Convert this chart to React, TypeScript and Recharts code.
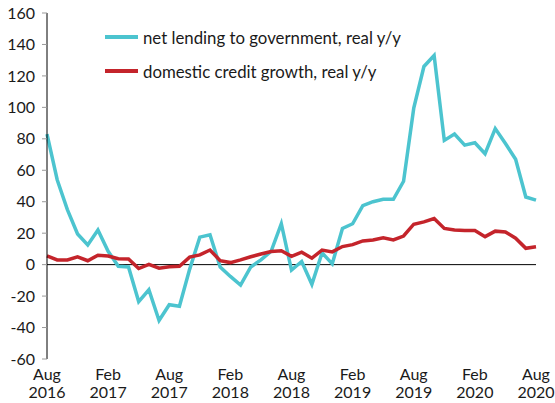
import { LineChart, Line, XAxis, YAxis, ReferenceLine } from "recharts";

const months = Array.from({ length: 49 }, (_, i) => i);

const netLending = [
  83, 54, 35, 19.5, 12.5, 22, 8.5, -1, -1.5, -23.5, -16, -35.5, -25.5, -26.5, -3,
  17.5, 19, -1.5, -7.5, -13, -1.5, 3, 8.5, 26, -3.5, 2, -12.5, 7.5, 0.5, 23, 26,
  37.5, 40, 41.5, 41.5, 53, 99.5, 126, 133, 79, 83, 76, 77.5, 70.5, 86.5, 77,
  67, 43, 41,
];

const domesticCredit = [
  5.5, 3, 3, 5, 2.5, 6, 5.5, 3.8, 3.6, -2.5, 0.2, -2.3, -1.3, -1, 4.8, 6.2, 9.3,
  2.5, 1.3, 3, 5, 6.8, 8.3, 8.8, 5.3, 7.9, 4.1, 9.3, 8.1, 11.5, 12.7, 15.1, 15.7,
  17, 15.7, 18.2, 25.7, 27.2, 29.3, 23, 22, 21.7, 21.7, 17.8, 21.3, 20.8, 16.8,
  10.4, 11.4,
];

const tickMonths = ["Aug", "Feb", "Aug", "Feb", "Aug", "Feb", "Aug", "Feb", "Aug"];
const tickYears = ["2016", "2017", "2017", "2018", "2018", "2019", "2019", "2020", "2020"];
const xTicks = [0, 6, 12, 18, 24, 30, 36, 42, 48];
const yTicks = [-60, -40, -20, 0, 20, 40, 60, 80, 100, 120, 140, 160];

const CYAN = "#4cc4cf";
const RED = "#c4242b";
const FONT = "Lato, 'Noto Sans', sans-serif";

const data = months.map((m, i) => ({
  m,
  net: netLending[i],
  credit: domesticCredit[i],
}));

function XTick({ x, payload }: any) {
  const idx = xTicks.indexOf(payload.value);
  return (
    <text x={x} y={359} textAnchor="middle" fill="#1a1a1a" fontSize={16} fontFamily={FONT}>
      <tspan x={x} dy={21}>{tickMonths[idx]}</tspan>
      <tspan x={x} dy={18}>{tickYears[idx]}</tspan>
    </text>
  );
}

function LegendBox() {
  const items = [
    { label: "net lending to government, real y/y", color: CYAN },
    { label: "domestic credit growth, real y/y", color: RED },
  ];
  return (
    <div
      style={{
        position: "absolute",
        left: 105,
        top: 20,
        fontFamily: FONT,
        fontSize: 16.8,
        color: "#1a1a1a",
      }}
    >
      {items.map((it) => (
        <div key={it.label} style={{ display: "flex", alignItems: "center", height: 34 }}>
          <div style={{ width: 33, height: 4, background: it.color, marginRight: 5 }} />
          <span>{it.label}</span>
        </div>
      ))}
    </div>
  );
}

export default function App() {
  return (
    <div style={{ position: "absolute", left: 0, top: 0, width: 555, height: 403, background: "#fff" }}>
      <LineChart
        width={555}
        height={403}
        data={data}
        margin={{ top: 13, right: 19, left: 0, bottom: 0 }}
      >
        <XAxis
          dataKey="m"
          type="number"
          domain={[0, 48]}
          ticks={xTicks}
          axisLine={false}
          tickLine={false}
          height={44}
          tick={<XTick />}
          interval={0}
        />
        <YAxis
          type="number"
          domain={[-60, 160]}
          ticks={yTicks}
          width={47}
          axisLine={{ stroke: "#000", strokeWidth: 1 }}
          tickLine={{ stroke: "#999", strokeWidth: 1 }}
          tickSize={5}
          tickMargin={7}
          tick={{ fill: "#1a1a1a", fontSize: 16, fontFamily: FONT }}
          interval={0}
        />
        <ReferenceLine y={0} stroke="#000" strokeWidth={1} />
        <Line
          type="linear"
          dataKey="net"
          stroke={CYAN}
          strokeWidth={3.5}
          dot={false}
          isAnimationActive={false}
        />
        <Line
          type="linear"
          dataKey="credit"
          stroke={RED}
          strokeWidth={3.5}
          dot={false}
          isAnimationActive={false}
        />
      </LineChart>
      <LegendBox />
    </div>
  );
}
